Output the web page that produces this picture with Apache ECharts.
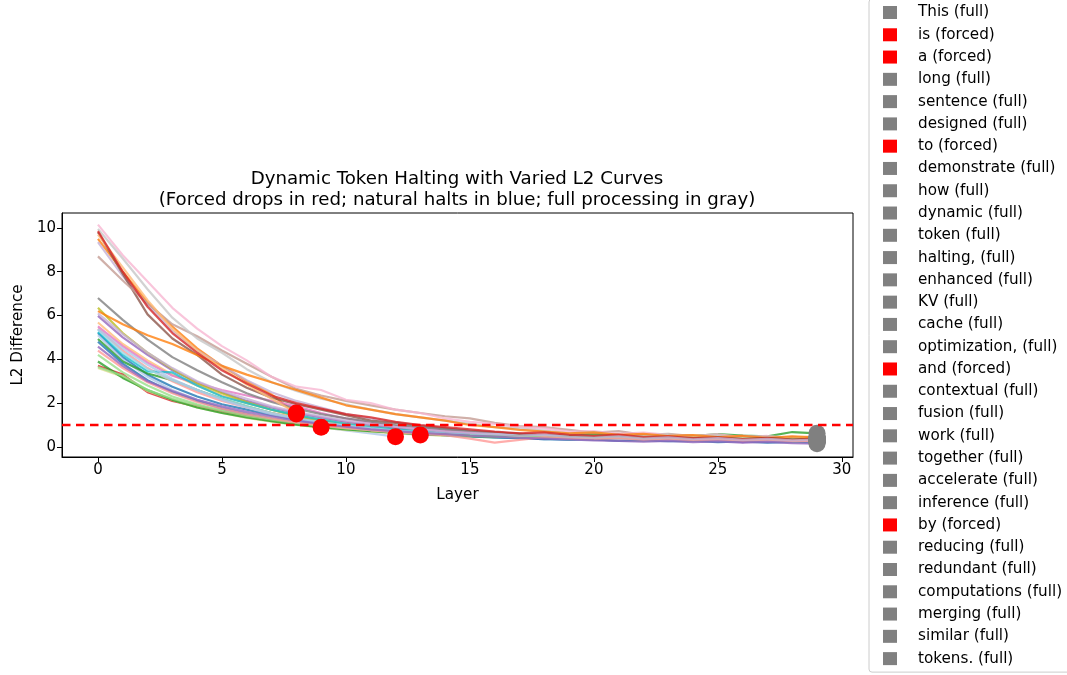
<!DOCTYPE html>
<html>
<head>
<meta charset="utf-8">
<script src="https://cdn.jsdelivr.net/npm/echarts@6/dist/echarts.min.js"></script>
<style>
  html, body { margin: 0; padding: 0; background: #fff; }
  #chart { width: 1067px; height: 675px; }
</style>
</head>
<body>
<div id="chart"></div>
<script>
// tokens in legend order, forced ones halt early
const tokens = ['This', 'is', 'a', 'long', 'sentence', 'designed', 'to', 'demonstrate', 'how', 'dynamic',
  'token', 'halting,', 'enhanced', 'KV', 'cache', 'optimization,', 'and', 'contextual', 'fusion', 'work',
  'together', 'accelerate', 'inference', 'by', 'reducing', 'redundant', 'computations', 'merging', 'similar', 'tokens.'];
const forced = ['is', 'a', 'to', 'and', 'by'];

// L2 difference per layer (forced tokens stop at their halt layer)
const l2This = [5.2, 4.1, 3.3, 2.75, 2.3, 1.95, 1.7, 1.45, 1.25, 1.05, 0.9, 0.8, 0.7, 0.62, 0.56, 0.5, 0.45, 0.4, 0.36, 0.32, 0.35, 0.28, 0.3, 0.26, 0.28, 0.22, 0.25, 0.2, 0.23, 0.2];
const l2Is = [5.1, 4.0, 3.2, 2.6, 2.15, 1.8, 1.5, 1.25, 1.05, 0.9, 0.75, 0.62, 0.47];
const l2A = [9.5, 8.0, 6.6, 5.5, 4.5, 3.7, 3.0, 2.4, 1.5];
const l2Long = [5.68, 4.7, 3.95, 3.3, 2.8, 2.35, 2.0, 1.7, 1.45, 1.25, 1.1, 0.95, 0.85, 0.75, 0.66, 0.6, 0.54, 0.48, 0.52, 0.44, 0.4, 0.46, 0.36, 0.42, 0.32, 0.38, 0.3, 0.35, 0.27, 0.31];
const l2Sentence = [4.93, 3.9, 3.35, 3.05, 2.6, 2.2, 1.85, 1.55, 1.3, 1.12, 0.98, 0.86, 0.78, 0.7, 0.62, 0.58, 0.52, 0.56, 0.5, 0.54, 0.6, 0.52, 0.48, 0.55, 0.5, 0.58, 0.52, 0.48, 0.68, 0.62];
const l2Designed = [4.2, 3.4, 2.8, 2.3, 1.95, 1.65, 1.42, 1.22, 1.05, 0.92, 0.8, 0.72, 0.64, 0.58, 0.52, 0.47, 0.43, 0.46, 0.4, 0.36, 0.39, 0.33, 0.3, 0.34, 0.28, 0.31, 0.26, 0.29, 0.24, 0.26];
const l2To = [3.71, 3.3, 2.5, 2.1, 1.85, 1.6, 1.4, 1.2, 1.05, 0.9];
const l2Demonstrate = [5.4, 4.4, 3.6, 3.0, 2.5, 2.1, 1.8, 1.55, 1.35, 1.15, 1.0, 0.88, 0.78, 0.7, 0.62, 0.56, 0.5, 0.55, 0.46, 0.42, 0.48, 0.38, 0.35, 0.4, 0.32, 0.37, 0.3, 0.34, 0.28, 0.3];
const l2How = [5.98, 5.0, 4.2, 3.5, 2.95, 2.5, 2.1, 1.8, 1.55, 1.35, 1.15, 1.0, 0.88, 0.8, 0.7, 0.62, 0.56, 0.6, 0.5, 0.45, 0.48, 0.4, 0.36, 0.42, 0.33, 0.38, 0.22, 0.34, 0.28, 0.32];
const l2Dynamic = [9.35, 7.8, 6.5, 5.3, 4.4, 3.7, 3.05, 2.5, 2.1, 1.8, 1.5, 1.3, 1.12, 0.98, 0.85, 0.75, 0.66, 0.58, 0.62, 0.5, 0.46, 0.52, 0.42, 0.38, 0.45, 0.36, 0.4, 0.3, 0.35, 0.28];
const l2Token = [9.8, 7.9, 6.05, 4.95, 4.2, 3.3, 2.7, 2.25, 1.95, 1.7, 1.45, 1.2, 1.1, 0.95, 0.85, 0.72, 0.66, 0.6, 0.52, 0.56, 0.48, 0.42, 0.5, 0.38, 0.44, 0.35, 0.4, 0.33, 0.36, 0.3];
const l2Halting = [8.7, 7.6, 6.55, 5.6, 5.05, 4.4, 3.8, 3.2, 2.65, 2.35, 2.1, 1.9, 1.7, 1.55, 1.4, 1.3, 1.1, 0.95, 0.9, 0.78, 0.65, 0.72, 0.55, 0.6, 0.5, 0.45, 0.52, 0.42, 0.46, 0.4];
const l2Enhanced = [5.5, 4.6, 3.85, 3.25, 2.9, 2.6, 2.35, 2.1, 1.85, 1.55, 1.3, 1.1, 0.95, 0.85, 0.75, 0.66, 0.6, 0.55, 0.48, 0.52, 0.44, 0.4, 0.46, 0.36, 0.42, 0.34, 0.38, 0.3, 0.35, 0.32];
const l2KV = [10.15, 8.75, 7.55, 6.35, 5.4, 4.6, 3.95, 3.2, 2.75, 2.6, 2.15, 2.0, 1.7, 1.55, 1.3, 1.15, 1.05, 0.9, 0.85, 0.7, 0.72, 0.6, 0.65, 0.55, 0.5, 0.58, 0.45, 0.5, 0.42, 0.48];
const l2Cache = [6.8, 5.8, 4.9, 4.1, 3.5, 2.95, 2.45, 2.05, 1.75, 1.5, 1.3, 1.15, 1.0, 0.9, 0.8, 0.72, 0.65, 0.6, 0.52, 0.56, 0.48, 0.44, 0.5, 0.4, 0.46, 0.38, 0.42, 0.35, 0.4, 0.36];
const l2Optimization = [9.95, 8.6, 7.2, 5.9, 4.95, 4.3, 3.55, 2.95, 2.55, 2.2, 1.95, 1.7, 1.5, 1.35, 1.2, 1.05, 0.9, 0.85, 0.75, 0.62, 0.68, 0.55, 0.5, 0.58, 0.46, 0.52, 0.4, 0.45, 0.38, 0.42];
const l2And = [6.35, 5.2, 4.3, 3.55, 2.9, 2.45, 2.05, 1.7, 1.4, 1.2, 1.0, 0.85, 0.72, 0.55];
const l2Contextual = [3.6, 3.2, 2.55, 2.15, 1.8, 1.55, 1.32, 1.15, 1.0, 0.88, 0.78, 0.7, 0.62, 0.56, 0.52, 0.48, 0.52, 0.46, 0.5, 0.44, 0.48, 0.42, 0.46, 0.4, 0.44, 0.38, 0.42, 0.36, 0.4, 0.45];
const l2Fusion = [5.25, 4.2, 3.45, 3.4, 2.8, 2.3, 2.0, 1.7, 1.45, 1.25, 1.05, 0.9, 0.8, 0.7, 0.62, 0.55, 0.5, 0.45, 0.4, 0.36, 0.38, 0.32, 0.35, 0.3, 0.33, 0.28, 0.3, 0.26, 0.29, 0.24];
const l2Work = [5.35, 4.3, 3.55, 3.05, 2.6, 2.2, 1.85, 1.55, 1.3, 1.12, 0.98, 0.86, 0.75, 0.68, 0.6, 0.55, 0.6, 0.52, 0.48, 0.54, 0.45, 0.5, 0.42, 0.46, 0.4, 0.44, 0.38, 0.42, 0.36, 0.4];
const l2Together = [4.8, 3.8, 3.05, 2.5, 2.1, 1.75, 1.5, 1.3, 1.12, 0.98, 0.85, 0.75, 0.66, 0.6, 0.54, 0.48, 0.44, 0.4, 0.36, 0.4, 0.33, 0.3, 0.34, 0.28, 0.31, 0.26, 0.29, 0.24, 0.27, 0.22];
const l2Accelerate = [5.38, 4.5, 3.75, 3.1, 2.6, 2.15, 1.8, 1.5, 1.28, 1.1, 0.95, 0.82, 0.72, 0.65, 0.58, 0.52, 0.46, 0.5, 0.42, 0.38, 0.44, 0.35, 0.4, 0.32, 0.36, 0.29, 0.33, 0.27, 0.3, 0.25];
const l2Inference = [6.2, 5.6, 5.1, 4.7, 4.2, 3.7, 3.3, 2.95, 2.6, 2.25, 1.9, 1.7, 1.5, 1.35, 1.2, 1.0, 0.9, 0.78, 0.7, 0.62, 0.66, 0.55, 0.6, 0.5, 0.54, 0.45, 0.5, 0.42, 0.48, 0.44];
const l2By = [9.7, 8.2, 6.7, 5.4, 4.4, 3.6, 2.85, 2.2, 1.55];
const l2Reducing = [3.9, 3.15, 2.6, 2.15, 1.8, 1.55, 1.35, 1.18, 1.02, 0.9, 0.8, 0.72, 0.65, 0.6, 0.55, 0.5, 0.46, 0.5, 0.44, 0.48, 0.42, 0.46, 0.4, 0.44, 0.38, 0.42, 0.36, 0.4, 0.34, 0.38];
const l2Redundant = [3.65, 3.25, 2.6, 2.2, 1.9, 1.65, 1.42, 1.25, 1.1, 0.96, 0.85, 0.76, 0.68, 0.62, 0.56, 0.52, 0.48, 0.44, 0.47, 0.42, 0.39, 0.43, 0.36, 0.4, 0.34, 0.37, 0.32, 0.35, 0.3, 0.33];
const l2Computations = [9.85, 8.0, 6.4, 5.2, 4.3, 3.5, 2.9, 2.35, 2.0, 1.75, 1.5, 1.35, 1.15, 1.0, 0.9, 0.8, 0.7, 0.62, 0.66, 0.55, 0.5, 0.56, 0.45, 0.48, 0.4, 0.44, 0.36, 0.42, 0.34, 0.38];
const l2Merging = [4.4, 3.6, 2.95, 2.45, 2.05, 1.75, 1.5, 1.3, 1.12, 0.98, 0.86, 0.76, 0.68, 0.6, 0.54, 0.38, 0.2, 0.32, 0.45, 0.38, 0.35, 0.4, 0.32, 0.36, 0.3, 0.33, 0.28, 0.31, 0.26, 0.28];
const l2Similar = [4.58, 3.7, 3.0, 2.55, 2.15, 1.85, 1.6, 1.4, 1.2, 1.05, 0.92, 0.8, 0.72, 0.64, 0.58, 0.52, 0.47, 0.42, 0.38, 0.34, 0.3, 0.27, 0.24, 0.28, 0.22, 0.25, 0.2, 0.23, 0.17, 0.15];
const l2Tokens = [6.1, 5.15, 4.3, 3.6, 3.0, 2.55, 2.2, 1.85, 1.6, 1.4, 1.2, 1.05, 0.92, 0.8, 0.7, 0.64, 0.58, 0.5, 0.55, 0.46, 0.42, 0.48, 0.38, 0.44, 0.35, 0.4, 0.32, 0.37, 0.3, 0.34];

const curves = [l2This, l2Is, l2A, l2Long, l2Sentence, l2Designed, l2To, l2Demonstrate, l2How, l2Dynamic,
  l2Token, l2Halting, l2Enhanced, l2KV, l2Cache, l2Optimization, l2And, l2Contextual, l2Fusion, l2Work,
  l2Together, l2Accelerate, l2Inference, l2By, l2Reducing, l2Redundant, l2Computations, l2Merging, l2Similar, l2Tokens];

const threshold = 1.0;
const xTicks = [0, 5, 10, 15, 20, 25, 30];
const yTicks = [0, 2, 4, 6, 8, 10];

// matplotlib tab20
const tab20 = ['#1f77b4', '#aec7e8', '#ff7f0e', '#ffbb78', '#2ca02c', '#98df8a', '#d62728', '#ff9896', '#9467bd', '#c5b0d5',
  '#8c564b', '#c49c94', '#e377c2', '#f7b6d2', '#7f7f7f', '#c7c7c7', '#bcbd22', '#dbdb8d', '#17becf', '#9edae5'];

const FONT = 'DejaVu Sans';
const label = (t) => t + (forced.includes(t) ? ' (forced)' : ' (full)');

const lineSeries = tokens.map((t, i) => ({
  name: label(t),
  type: 'line',
  data: curves[i].map((v, k) => [k, v]),
  symbol: 'none',
  silent: true,
  lineStyle: { width: 2.2, color: tab20[i % 20], opacity: 0.8 },
  itemStyle: { color: tab20[i % 20] },
  z: 2
}));

const forcedPts = [];
const fullPts = [];
tokens.forEach((t, i) => {
  const c = curves[i];
  const p = [c.length - 1, c[c.length - 1]];
  (forced.includes(t) ? forcedPts : fullPts).push(p);
});

const options = {
  animation: false,
  backgroundColor: '#fff',
  title: {
    text: 'Dynamic Token Halting with Varied L2 Curves\n(Forced drops in red; natural halts in blue; full processing in gray)',
    left: 452,
    top: 164,
    textAlign: 'center',
    textStyle: { fontFamily: FONT, fontSize: 18.2, fontWeight: 'normal', color: '#000', lineHeight: 21 }
  },
  grid: {
    left: 62, right: 214, top: 213, bottom: 218,
    show: true, borderColor: '#000', borderWidth: 1
  },
  legend: {
    orient: 'vertical',
    left: 869,
    top: -1,
    padding: [6, 10, 6, 14],
    itemWidth: 14,
    itemHeight: 13,
    itemGap: 7.28,
    selectedMode: false,
    borderColor: '#cccccc',
    borderWidth: 1,
    borderRadius: 3,
    textStyle: { fontFamily: FONT, fontSize: 15.2, lineHeight: 15, color: '#000', padding: [0, 0, 0, 16] },
    data: tokens.map((t) => ({
      name: label(t),
      icon: 'rect',
      itemStyle: { color: forced.includes(t) ? '#ff0000' : '#808080', opacity: 1 }
    }))
  },
  xAxis: {
    type: 'value',
    min: -1.45,
    max: 30.45,
    name: 'Layer',
    nameLocation: 'middle',
    nameGap: 31,
    nameTextStyle: { fontFamily: FONT, fontSize: 15.2, color: '#000' },
    splitLine: { show: false },
    axisLine: { onZero: false, lineStyle: { color: '#000' } },
    axisTick: { length: 5, customValues: xTicks, lineStyle: { color: '#000' } },
    axisLabel: {
      fontFamily: FONT, fontSize: 15, color: '#000', margin: 6,
      customValues: xTicks,
      formatter: (v) => (xTicks.includes(v) ? String(v) : '')
    }
  },
  yAxis: {
    type: 'value',
    min: -0.46,
    max: 10.68,
    name: 'L2 Difference',
    nameLocation: 'middle',
    nameGap: 34,
    nameTextStyle: { fontFamily: FONT, fontSize: 15.2, color: '#000' },
    splitLine: { show: false },
    axisLine: { show: true, onZero: false, lineStyle: { color: '#000' } },
    axisTick: { show: true, length: 5, customValues: yTicks, lineStyle: { color: '#000' } },
    axisLabel: {
      fontFamily: FONT, fontSize: 15, color: '#000', margin: 6,
      customValues: yTicks,
      formatter: (v) => (yTicks.includes(v) ? String(v) : '')
    }
  },
  series: [
    ...lineSeries,
    {
      name: 'threshold',
      type: 'line',
      data: [],
      silent: true,
      z: 3,
      markLine: {
        silent: true,
        symbol: 'none',
        label: { show: false },
        lineStyle: { color: '#ff0000', type: [8.5, 5.5], width: 2.3 },
        data: [{ yAxis: threshold }]
      }
    },
    {
      name: 'forced halt',
      type: 'scatter',
      data: forcedPts,
      symbolSize: 17,
      itemStyle: { color: '#ff0000', opacity: 1 },
      z: 4
    },
    {
      name: 'full',
      type: 'scatter',
      data: fullPts,
      symbolSize: 17,
      itemStyle: { color: '#808080', opacity: 1 },
      z: 4
    }
  ]
};

const chart = echarts.init(document.getElementById('chart'), null, { renderer: 'canvas' });
chart.setOption(options);
window.addEventListener('resize', () => chart.resize());
</script>
</body>
</html>
